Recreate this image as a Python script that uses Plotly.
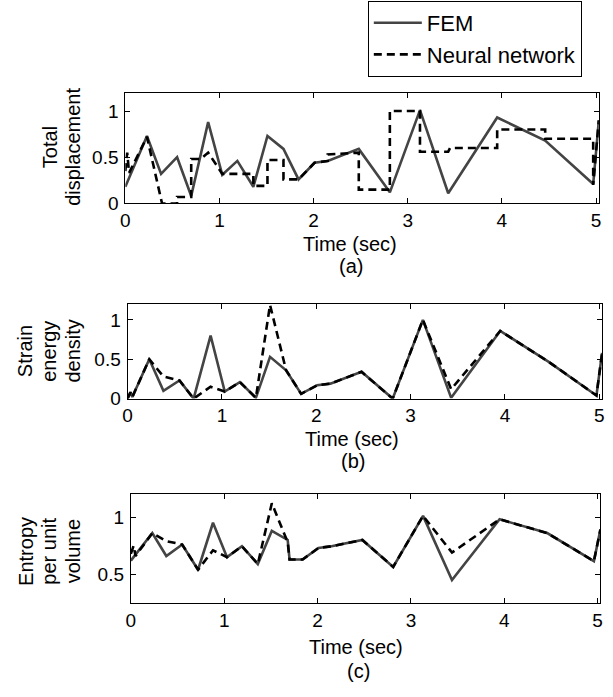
import plotly.graph_objects as go

# ---------------- data ----------------
# (a) Total displacement
t_a = [0, 0.05, 0.23, 0.38, 0.55, 0.70, 0.88, 1.03, 1.19, 1.36, 1.51, 1.68, 1.84,
       2.01, 2.15, 2.48, 2.81, 3.13, 3.43, 3.95, 4.46, 4.97, 5.03]
fem_a = [0.18, 0.30, 0.73, 0.32, 0.50, 0.08, 0.88, 0.31, 0.46, 0.18, 0.73, 0.59, 0.26,
         0.44, 0.46, 0.59, 0.12, 1.01, 0.11, 0.93, 0.68, 0.21, 0.90]
nn_a_t = [0, 0.02, 0.04, 0.23, 0.39, 0.55, 0.55, 0.70, 0.70, 0.80, 0.88, 1.03, 1.36, 1.36,
          1.51, 1.51, 1.68, 1.68, 1.84, 2.01, 2.15, 2.15, 2.48, 2.48, 2.81, 2.81, 3.13,
          3.13, 3.43, 3.45, 3.95, 3.95, 4.46, 4.46, 4.97, 4.97, 5.03]
nn_a = [0.35, 0.55, 0.33, 0.72, 0.0, 0.0, 0.07, 0.07, 0.48, 0.48, 0.55, 0.32, 0.32, 0.19,
        0.19, 0.47, 0.47, 0.26, 0.26, 0.44, 0.46, 0.53, 0.55, 0.15, 0.15, 1.0, 1.0,
        0.56, 0.56, 0.60, 0.60, 0.80, 0.80, 0.70, 0.70, 0.20, 0.90]

# (b) Strain energy density
t_b = [0, 0.03, 0.05, 0.23, 0.38, 0.55, 0.70, 0.88, 1.03, 1.19, 1.36, 1.51, 1.68, 1.84,
       2.01, 2.15, 2.48, 2.81, 3.13, 3.43, 3.95, 4.46, 4.97, 5.03]
fem_b = [0.0, 0.08, 0.02, 0.50, 0.10, 0.23, 0.0, 0.80, 0.09, 0.21, 0.01, 0.53, 0.36, 0.06,
         0.17, 0.19, 0.34, 0.0, 1.0, 0.01, 0.86, 0.47, 0.04, 0.58]
nn_b = [0.0, 0.08, 0.02, 0.50, 0.28, 0.23, 0.0, 0.15, 0.09, 0.21, 0.01, 1.19, 0.36, 0.06,
        0.17, 0.19, 0.34, 0.0, 1.0, 0.12, 0.86, 0.47, 0.04, 0.58]

# (c) Entropy per unit volume
t_c = [0, 0.03, 0.05, 0.23, 0.38, 0.55, 0.72, 0.88, 1.03, 1.19, 1.36, 1.51, 1.68, 1.70,
       1.84, 2.01, 2.15, 2.48, 2.81, 3.13, 3.44, 3.95, 4.46, 4.96, 5.03]
fem_c = [0.62, 0.65, 0.67, 0.86, 0.66, 0.76, 0.54, 0.95, 0.65, 0.745, 0.59, 0.88, 0.80,
         0.63, 0.63, 0.73, 0.745, 0.80, 0.565, 1.01, 0.45, 0.98, 0.86, 0.615, 0.89]
nn_c = [0.68, 0.75, 0.66, 0.86, 0.79, 0.76, 0.54, 0.71, 0.65, 0.745, 0.59, 1.12, 0.78,
        0.63, 0.63, 0.73, 0.745, 0.80, 0.565, 1.01, 0.69, 0.98, 0.86, 0.615, 0.89]

x_ticks = [0, 1, 2, 3, 4, 5]
x_tick_text = ["0", "1", "2", "3", "4", "5"]
y_ticks_ab = [0, 0.5, 1]
y_ticks_c = [0.5, 1]

# ---------------- figure ----------------
W, H = 613, 697
FONT = "Liberation Sans, Arial, sans-serif"
FEM_COLOR = "#444444"
NN_COLOR = "#000000"
TICK_SIZE = 19
LABEL_SIZE = 20
LEGEND_SIZE = 22

fig = go.Figure()

def add_pair(t, fem, tn, nn, xa, ya, show):
    fig.add_trace(go.Scatter(x=t, y=fem, mode="lines", name="FEM",
                             line=dict(color=FEM_COLOR, width=2.6),
                             xaxis=xa, yaxis=ya, showlegend=show))
    fig.add_trace(go.Scatter(x=tn, y=nn, mode="lines", name="Neural network",
                             line=dict(color=NN_COLOR, width=2.6, dash="8px,5px"),
                             xaxis=xa, yaxis=ya, showlegend=show))

add_pair(t_a, fem_a, nn_a_t, nn_a, "x", "y", True)
add_pair(t_b, fem_b, t_b, nn_b, "x2", "y2", False)
add_pair(t_c, fem_c, t_c, nn_c, "x3", "y3", False)

def px_x(p):
    return p / W

def px_y(p):
    return 1 - p / H

axis_common = dict(showline=True, linecolor="black", linewidth=1, mirror="ticks",
                   ticks="inside", ticklen=5, tickcolor="black", tickwidth=1,
                   showgrid=False, zeroline=False,
                   tickfont=dict(family=FONT, size=TICK_SIZE, color="black"))

panels = [
    ((121.7, 600.7), (94, 206.7), [0, 1.2], y_ticks_ab),
    ((124.0, 604.0), (309, 405), [0, 1.2], y_ticks_ab),
    ((127.3, 602.3), (502, 612.7), [0.25, 1.2], y_ticks_c),
]

layout = dict(width=W, height=H, margin=dict(l=0, r=0, t=0, b=0),
              paper_bgcolor="white", plot_bgcolor="white",
              font=dict(family=FONT, size=TICK_SIZE, color="black"))

for i, ((x0, x1), (yt, yb), yr, yt_vals) in enumerate(panels, start=1):
    sfx = "" if i == 1 else str(i)
    layout["xaxis" + sfx] = dict(axis_common, domain=[px_x(x0), px_x(x1)],
                                 range=[0, 5.03], tickvals=x_ticks, ticktext=x_tick_text,
                                 anchor="y" + sfx)
    layout["yaxis" + sfx] = dict(axis_common, domain=[px_y(yb), px_y(yt)],
                                 range=yr, tickvals=yt_vals,
                                 ticktext=[("%g" % v) for v in yt_vals],
                                 ticklabelstandoff=2, anchor="x" + sfx)

fig.update_layout(**layout)

fig.update_layout(legend=dict(x=px_x(367), y=px_y(1), xanchor="left", yanchor="top",
                              bordercolor="black", borderwidth=1, bgcolor="white",
                              font=dict(family=FONT, size=LEGEND_SIZE, color="black"),
                              itemwidth=48, tracegroupgap=0))

annots = []
def txt(s, x, y, angle=0):
    annots.append(dict(text=s, x=px_x(x), y=px_y(y), xref="paper", yref="paper",
                       showarrow=False, textangle=angle, xanchor="center", yanchor="middle",
                       font=dict(family=FONT, size=LABEL_SIZE, color="black")))

# x titles and captions
txt("Time (sec)", 349, 248)
txt("(a)", 350, 270)
txt("Time (sec)", 351, 446)
txt("(b)", 352, 468)
txt("Time (sec)", 355, 657)
txt("(c)", 358, 682)

# y titles (rotated)
txt("Total", 45, 149, -90)
txt("displacement", 68, 149, -90)
txt("Strain", 21, 357, -90)
txt("energy", 45, 357, -90)
txt("density", 69, 357, -90)
txt("Entropy", 21, 560, -90)
txt("per unit", 45, 560, -90)
txt("volume", 69, 560, -90)

fig.update_layout(annotations=annots)

fig.write_html("out.html", config={"displayModeBar": False},
               post_script="document.body.style.margin='0px';document.body.style.overflow='hidden';")
